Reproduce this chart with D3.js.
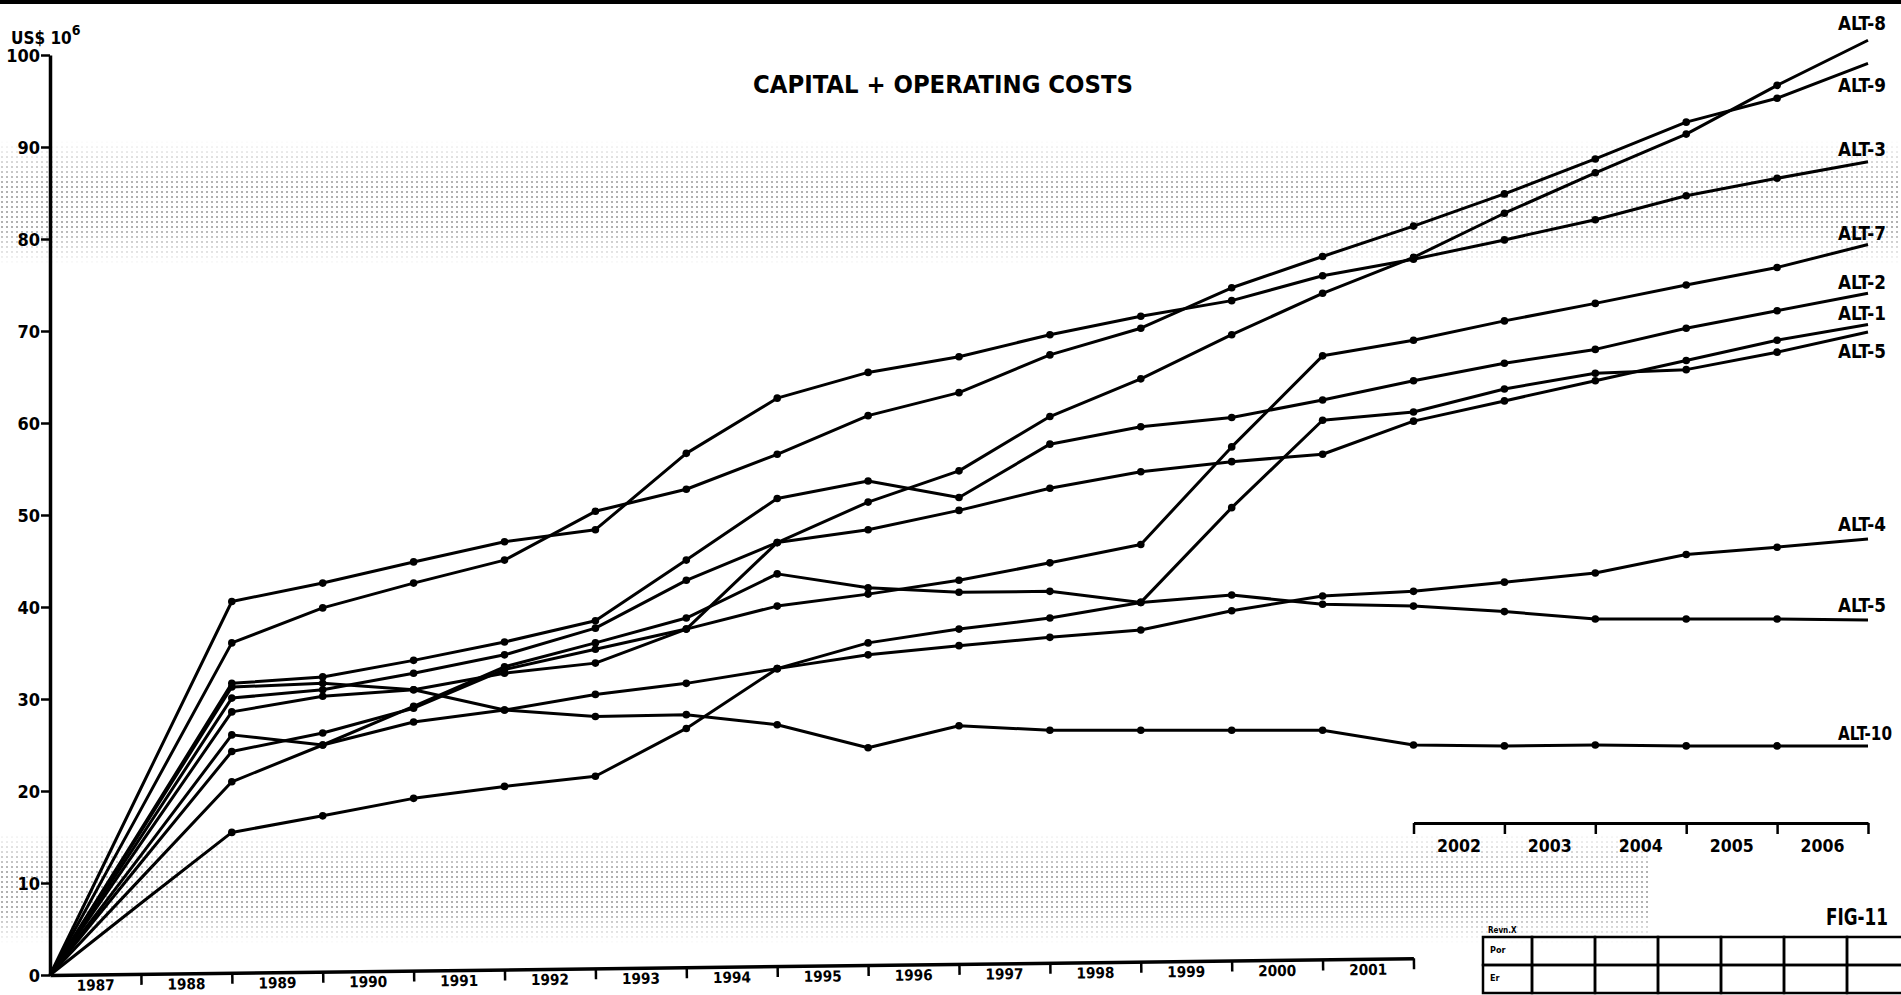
<!DOCTYPE html>
<html>
<head>
<meta charset="utf-8">
<script src="https://cdn.jsdelivr.net/npm/d3@7"></script>
<style>
  body { margin: 0; background: #fff; overflow: hidden; }
  svg { display: block; }
  text { font-family: "DejaVu Sans Condensed", "DejaVu Sans", sans-serif; font-stretch: condensed; font-weight: bold; fill: #000; }
</style>
</head>
<body>
<div id="chart"></div>
<script>
// year labels under the main axis and under the small inset axis
var yearLabels = ["1987", "1988", "1989", "1990", "1991", "1992", "1993", "1994",
                  "1995", "1996", "1997", "1998", "1999", "2000", "2001"];
var insetYearLabels = ["2002", "2003", "2004", "2005", "2006"];
var yTickValues = [0, 10, 20, 30, 40, 50, 60, 70, 80, 90, 100];

// cumulative cost, US$ 10^6, one value per year tick (start of 1987 .. end of 2006)
var alt8  = [0, 12.2, 24.3, 26.3, 29.0, 33.2, 35.4, 37.6, 47.0, 51.4, 54.8, 60.7, 64.8, 69.6, 74.1, 78.0, 82.8, 87.2, 91.4, 96.7, 101.6];
var alt9  = [0, 18.0, 36.1, 39.9, 42.6, 45.1, 50.4, 52.8, 56.6, 60.8, 63.3, 67.4, 70.3, 74.7, 78.1, 81.4, 84.9, 88.7, 92.7, 95.3, 99.1];
var alt3  = [0, 20.3, 40.6, 42.6, 44.9, 47.1, 48.4, 56.7, 62.7, 65.5, 67.2, 69.6, 71.6, 73.3, 76.0, 77.8, 79.9, 82.1, 84.7, 86.6, 88.4];
var alt7  = [0, 14.3, 28.6, 30.3, 31.0, 32.8, 33.9, 37.6, 40.1, 41.4, 42.9, 44.8, 46.8, 57.4, 67.3, 69.0, 71.1, 73.0, 75.0, 76.9, 79.4];
var alt2  = [0, 15.8, 31.7, 32.4, 34.2, 36.2, 38.5, 45.1, 51.8, 53.7, 51.9, 57.7, 59.6, 60.6, 62.5, 64.6, 66.5, 68.0, 70.3, 72.2, 74.1];
var alt1  = [0, 15.0, 30.1, 31.0, 32.8, 34.8, 37.7, 42.9, 47.0, 48.4, 50.5, 52.9, 54.7, 55.8, 56.6, 60.2, 62.4, 64.6, 66.8, 69.0, 70.7];
var alt5a = [0, 15.6, 31.3, 31.7, 31.0, 28.8, 30.5, 31.7, 33.3, 36.1, 37.6, 38.8, 40.5, 50.8, 60.3, 61.2, 63.7, 65.4, 65.8, 67.7, 69.9];
var alt4  = [0, 7.8, 15.5, 17.3, 19.2, 20.5, 21.6, 26.8, 33.3, 34.8, 35.8, 36.7, 37.5, 39.6, 41.2, 41.7, 42.7, 43.7, 45.7, 46.5, 47.4];
var alt5b = [0, 10.5, 21.0, 25.0, 29.2, 33.5, 36.1, 38.8, 43.6, 42.1, 41.6, 41.7, 40.5, 41.3, 40.3, 40.1, 39.5, 38.7, 38.7, 38.7, 38.6];
var alt10 = [0, 13.0, 26.1, 25.0, 27.5, 28.8, 28.1, 28.3, 27.2, 24.7, 27.1, 26.6, 26.6, 26.6, 26.6, 25.0, 24.9, 25.0, 24.9, 24.9, 24.9];

var seriesNames = ["ALT-8", "ALT-9", "ALT-3", "ALT-7", "ALT-2", "ALT-1", "ALT-5", "ALT-4", "ALT-5", "ALT-10"];
var seriesValues = [alt8, alt9, alt3, alt7, alt2, alt1, alt5a, alt4, alt5b, alt10];

// table in the corner
var tableRows = ["Por", "Er"];

function drawChart() {
    var svgWidth = 1901;
    var svgHeight = 995;

    var svg = d3.select("#chart")
        .append("svg")
        .attr("width", svgWidth)
        .attr("height", svgHeight);

    // scales: one tick per year, 100 = top of axis
    var xScale = d3.scaleLinear().domain([0, 20]).range([50, 1868]);
    var yScale = d3.scaleLinear().domain([0, 100]).range([975, 55]);

    // halftone smudges of the scan
    var defs = svg.append("defs");
    var pat = defs.append("pattern")
        .attr("id", "dots")
        .attr("width", 5).attr("height", 5)
        .attr("patternUnits", "userSpaceOnUse");
    pat.append("rect").attr("x", 1).attr("y", 1).attr("width", 2).attr("height", 2).attr("fill", "#000");
    var grad = defs.append("linearGradient")
        .attr("id", "fade").attr("x1", 0).attr("y1", 0).attr("x2", 0).attr("y2", 1);
    grad.append("stop").attr("offset", "0").attr("stop-color", "#fff").attr("stop-opacity", 0);
    grad.append("stop").attr("offset", "0.35").attr("stop-color", "#fff").attr("stop-opacity", 1);
    grad.append("stop").attr("offset", "0.7").attr("stop-color", "#fff").attr("stop-opacity", 1);
    grad.append("stop").attr("offset", "1").attr("stop-color", "#fff").attr("stop-opacity", 0);
    var mask = defs.append("mask").attr("id", "fadeMask").attr("maskContentUnits", "objectBoundingBox");
    mask.append("rect").attr("width", 1).attr("height", 1).attr("fill", "url(#fade)");

    var bands = [[0, 140, 1901, 125], [0, 832, 1650, 112]];
    svg.selectAll("rect.band")
        .data(bands)
        .enter()
        .append("rect")
        .attr("class", "band")
        .attr("x", d => d[0]).attr("y", d => d[1])
        .attr("width", d => d[2]).attr("height", d => d[3])
        .attr("fill", "url(#dots)")
        .attr("opacity", 0.3)
        .attr("mask", "url(#fadeMask)");

    // heavy border at the top of the sheet
    svg.append("rect")
        .attr("x", 0).attr("y", 0)
        .attr("width", svgWidth).attr("height", 4)
        .attr("fill", "#000");

    // y axis
    var yAxis = d3.axisLeft(yScale)
        .tickValues(yTickValues)
        .tickSize(9)
        .tickSizeOuter(0)
        .tickPadding(1);
    var yG = svg.append("g")
        .attr("transform", `translate(${xScale(0)}, 0)`)
        .call(yAxis);
    yG.select(".domain").attr("stroke-width", 3.5);
    yG.selectAll(".tick line").attr("stroke-width", 2.5);
    yG.selectAll(".tick text")
        .attr("font-size", 18)
        .attr("dy", "0.35em");

    var unit = svg.append("text")
        .attr("x", 11)
        .attr("y", 44)
        .attr("font-size", 17);
    unit.append("tspan").text("US$ 10");
    unit.append("tspan").attr("font-size", 14).attr("dy", -9).text("6");

    // main x axis (drawn a touch out of level, as on the sheet)
    var xMain = d3.scaleLinear().domain([0, 15]).range([xScale(0), xScale(15)]);
    var xAxis = d3.axisBottom(xMain)
        .tickValues(d3.range(1, 16))
        .tickSize(11)
        .tickSizeOuter(0)
        .tickFormat("");
    var xTilt = svg.append("g").attr("transform", "rotate(-0.7, 50, 975)");
    var xG = xTilt.append("g")
        .attr("transform", `translate(0, ${yScale(0)})`)
        .call(xAxis);
    xG.select(".domain").attr("stroke-width", 3.5);
    xG.selectAll(".tick line").attr("stroke-width", 2.5);
    xG.selectAll("text.year")
        .data(yearLabels)
        .enter()
        .append("text")
        .attr("class", "year")
        .attr("x", (d, i) => xMain(i + 0.5))
        .attr("y", 16)
        .attr("text-anchor", "middle")
        .attr("font-size", 15)
        .attr("textLength", 38)
        .attr("lengthAdjust", "spacingAndGlyphs")
        .text(d => d);

    // inset axis for the last five years
    var xInset = d3.scaleLinear().domain([15, 20]).range([xScale(15), xScale(20)]);
    var insetAxis = d3.axisBottom(xInset)
        .tickValues(d3.range(15, 21))
        .tickSize(11)
        .tickSizeOuter(0)
        .tickFormat("");
    var inG = svg.append("g")
        .attr("transform", "translate(0, 823)")
        .call(insetAxis);
    inG.select(".domain").attr("stroke-width", 3);
    inG.selectAll(".tick line").attr("stroke-width", 2.5);
    inG.selectAll("text.year")
        .data(insetYearLabels)
        .enter()
        .append("text")
        .attr("class", "year")
        .attr("x", (d, i) => xInset(15.5 + i))
        .attr("y", 29)
        .attr("text-anchor", "middle")
        .attr("font-size", 17)
        .attr("textLength", 44)
        .attr("lengthAdjust", "spacingAndGlyphs")
        .text(d => d);

    // cost lines
    var line = d3.line()
        .x((d, i) => xScale(i))
        .y(d => yScale(d));

    var lineGroup = svg.append("g");
    lineGroup.selectAll("path.alt")
        .data(seriesValues)
        .enter()
        .append("path")
        .attr("class", "alt")
        .attr("d", line)
        .attr("fill", "none")
        .attr("stroke", "#000")
        .attr("stroke-width", 3)
        .attr("stroke-linejoin", "round");

    // dots on the year ticks (the first tick sits inside the fan, no dots there)
    seriesValues.forEach(function(vals) {
        lineGroup.selectAll(null)
            .data(vals.slice(2, 20))
            .enter()
            .append("circle")
            .attr("cx", (d, i) => xScale(i + 2))
            .attr("cy", d => yScale(d))
            .attr("r", 3.8)
            .attr("fill", "#000");
    });

    // names at the line ends
    var labelOffset = [-10, 29, -6, -5, -4, -5, 26, -8, -8, -6];
    svg.selectAll("text.alt")
        .data(seriesNames)
        .enter()
        .append("text")
        .attr("class", "alt")
        .attr("x", 1838)
        .attr("y", (d, i) => yScale(seriesValues[i][20]) + labelOffset[i])
        .attr("font-size", 19)
        .attr("textLength", d => d.length > 5 ? 54 : 48)
        .attr("lengthAdjust", "spacingAndGlyphs")
        .text(d => d);

    // title and figure number
    svg.append("text")
        .attr("x", 943)
        .attr("y", 93)
        .attr("text-anchor", "middle")
        .attr("font-size", 25)
        .attr("textLength", 380)
        .attr("lengthAdjust", "spacingAndGlyphs")
        .text("CAPITAL + OPERATING COSTS");

    svg.append("text")
        .attr("x", 1826)
        .attr("y", 925)
        .attr("font-size", 23)
        .attr("textLength", 62)
        .attr("lengthAdjust", "spacingAndGlyphs")
        .text("FIG-11");

    // revision box
    var tableX = 1483, tableY = 937, rowH = 28, firstCol = 49, colW = 63;
    var table = svg.append("g");
    table.append("text")
        .attr("x", tableX + 5)
        .attr("y", tableY - 4)
        .attr("font-size", 8)
        .text("Revn.X");
    tableRows.forEach(function(r, ri) {
        table.append("rect")
            .attr("x", tableX).attr("y", tableY + ri * rowH)
            .attr("width", firstCol).attr("height", rowH)
            .attr("fill", "none").attr("stroke", "#000").attr("stroke-width", 2.5);
        table.append("text")
            .attr("x", tableX + 7)
            .attr("y", tableY + ri * rowH + 16)
            .attr("font-size", 9)
            .text(r);
        d3.range(7).forEach(function(c) {
            table.append("rect")
                .attr("x", tableX + firstCol + c * colW).attr("y", tableY + ri * rowH)
                .attr("width", colW).attr("height", rowH)
                .attr("fill", "none").attr("stroke", "#000").attr("stroke-width", 2.5);
        });
    });
}

drawChart();
</script>
</body>
</html>
